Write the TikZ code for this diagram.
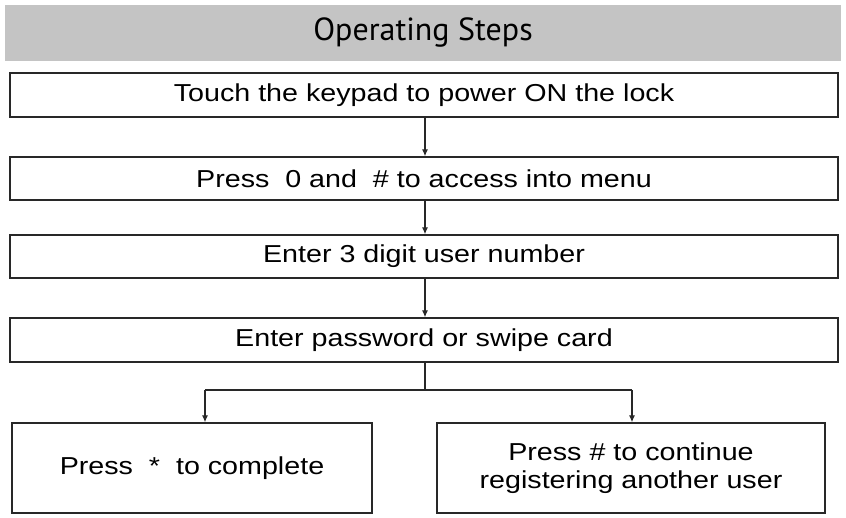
\documentclass[tikz,border=0pt]{standalone}
\usepackage{fontspec}
\setmainfont{Liberation Sans}
\newfontfamily\boxfont[FakeStretch=1.17]{Liberation Sans}
\newfontfamily\headfont{PT Sans}
\usetikzlibrary{arrows.meta}
\definecolor{headgray}{RGB}{196,196,196}
\definecolor{linecol}{RGB}{40,40,40}
\tikzset{
  stepbox/.style={draw=linecol, line width=1.3pt, fill=white, inner sep=0pt, font=\boxfont\fontsize{24.5}{28}\selectfont, align=center},
  conn/.style={draw=linecol, line width=1.2pt, -{Latex[length=7pt,width=6pt]}},
  plain/.style={draw=linecol, line width=1.2pt}
}
\begin{document}
\begin{tikzpicture}[x=1pt,y=-1pt]
\useasboundingbox (0,0) rectangle (846,518);
\node[fill=headgray, minimum width=836pt, minimum height=56pt, inner sep=0pt, font=\headfont\fontsize{32}{36}\selectfont] (head) at (423,33) {Operating Steps};
\node[stepbox, minimum width=828pt, minimum height=44pt] (s1) at (424,95) {Touch the keypad to power ON the lock};
\node[stepbox, minimum width=828pt, minimum height=43pt] (s2) at (424,178.5) {Press\ \ 0 and\ \ \# to access into menu};
\node[stepbox, minimum width=828pt, minimum height=43pt] (s3) at (424,256.5) {Enter 3 digit user number};
\node[stepbox, minimum width=828pt, minimum height=44pt] (s4) at (424,340) {Enter password or swipe card};
\node[stepbox, minimum width=360pt, minimum height=90pt] (s5) at (192,468) {Press\ \ *\ \ to complete};
\node[stepbox, minimum width=388pt, minimum height=90pt] (s6) at (631,468) {Press \# to continue\\registering another user};
\coordinate (split) at (425,390);
\coordinate (lt) at (205,390);
\coordinate (rt) at (632,390);
\draw[conn] (s1.south -| split) -- (s2.north -| split);
\draw[conn] (s2.south -| split) -- (s3.north -| split);
\draw[conn] (s3.south -| split) -- (s4.north -| split);
\draw[plain] (s4.south -| split) -- (split);
\draw[plain] (lt) -- (rt);
\draw[conn] (lt) -- (s5.north -| lt);
\draw[conn] (rt) -- (s6.north -| rt);
\end{tikzpicture}
\end{document}
